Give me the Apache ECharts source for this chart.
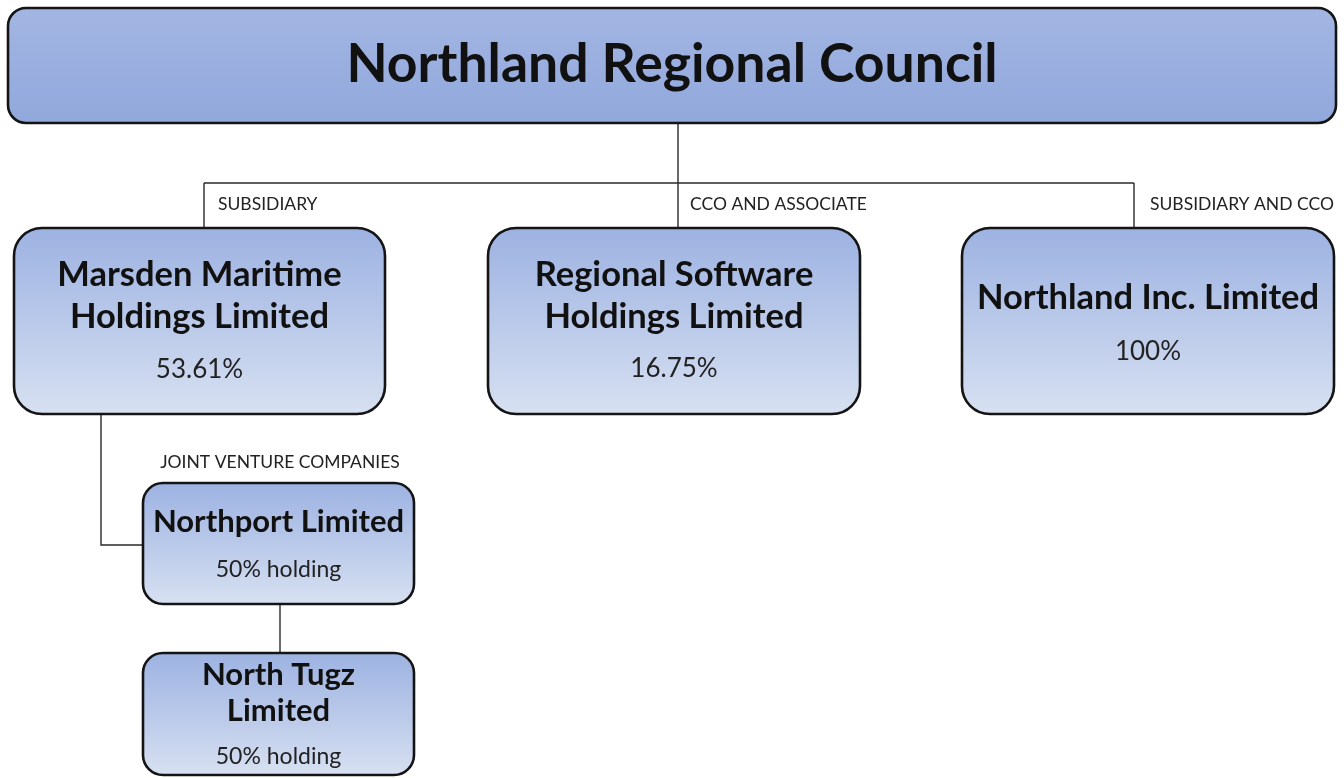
<!DOCTYPE html>
<html>
<head>
<meta charset="utf-8">
<script src="https://cdn.jsdelivr.net/npm/echarts@6/dist/echarts.min.js"></script>
<style>
  html, body { margin: 0; padding: 0; background: #ffffff; }
  #main { width: 1344px; height: 778px; }
</style>
</head>
<body>
<div id="main"></div>
<script>
// entity names and holdings
var nodeNames = ['Northland Regional Council', 'Marsden Maritime\nHoldings Limited', 'Regional Software\nHoldings Limited',
  'Northland Inc. Limited', 'Northport Limited', 'North Tugz\nLimited'];
var nodeShares = ['', '53.61%', '16.75%', '100%', '50% holding', '50% holding'];
var relationLabels = ['SUBSIDIARY', 'CCO AND ASSOCIATE', 'SUBSIDIARY AND CCO', 'JOINT VENTURE COMPANIES'];

// layout (pixel space of the page): box x, y, w, h, corner radius
var boxLayout = [
  [8, 8, 1328, 115, 18],
  [14, 228, 371, 186, 28],
  [488, 228, 372, 186, 28],
  [962, 228, 372, 186, 28],
  [143, 483, 271, 121, 20],
  [143, 653, 271, 122, 20]
];
// name centre y, name font size, line height, share y, share font size
var textLayout = [
  [65, 53.5, 50, 0, 0],
  [296, 34.5, 42, 370, 26],
  [296, 34.5, 42, 369, 26],
  [298, 34.5, 42, 352, 26],
  [522, 31, 36, 570, 23],
  [693, 31, 36, 757, 23]
];
var connectorPaths = [
  [[678, 123], [678, 183]],
  [[204, 183], [1134, 183]],
  [[204, 183], [204, 228]],
  [[678, 183], [678, 228]],
  [[1134, 183], [1134, 228]],
  [[101, 414], [101, 545], [143, 545]],
  [[280, 604], [280, 653]]
];
var labelLayout = [[218, 204, 'left'], [690, 204, 'left'], [1150, 204, 'left'], [280, 462, 'center']];

var FONT = 'Lato, "Open Sans", sans-serif';

var chart = echarts.init(document.getElementById('main'));

var boxData = nodeNames.map(function (n, i) { return [i]; });
var labelData = relationLabels.map(function (n, i) { return [i]; });

function renderBox(params, api) {
  var i = api.value(0);
  var b = boxLayout[i];
  var t = textLayout[i];
  var p0 = api.coord([b[0], b[1]]);
  var p1 = api.coord([b[0] + b[2], b[1] + b[3]]);
  var cx = (p0[0] + p1[0]) / 2;
  var top = i === 0;
  var fill = new echarts.graphic.LinearGradient(0, 0, 0, 1, top ? [
    { offset: 0, color: '#a3b6e3' },
    { offset: 1, color: '#91a8dc' }
  ] : [
    { offset: 0, color: '#9db2e2' },
    { offset: 0.55, color: '#bccbea' },
    { offset: 1, color: '#d8e1f2' }
  ]);
  var children = [{
    type: 'rect',
    shape: { x: p0[0], y: p0[1], width: p1[0] - p0[0], height: p1[1] - p0[1], r: b[4] },
    style: { fill: fill, stroke: '#141414', lineWidth: 2.6 }
  }, {
    type: 'text',
    x: cx, y: api.coord([0, t[0]])[1],
    style: {
      text: nodeNames[i], fill: '#111111', font: 'bold ' + t[1] + 'px ' + FONT,
      lineHeight: t[2], align: 'center', verticalAlign: 'middle'
    }
  }];
  if (nodeShares[i]) {
    children.push({
      type: 'text',
      x: cx, y: api.coord([0, t[3]])[1],
      style: {
        text: nodeShares[i], fill: '#222222', font: t[4] + 'px ' + FONT,
        align: 'center', verticalAlign: 'middle'
      }
    });
  }
  return { type: 'group', children: children };
}

function renderLabel(params, api) {
  var i = api.value(0);
  var l = labelLayout[i];
  var p = api.coord([l[0], l[1]]);
  return {
    type: 'text', x: p[0], y: p[1],
    style: {
      text: relationLabels[i], fill: '#222222', font: '17.5px ' + FONT,
      align: l[2], verticalAlign: 'middle'
    }
  };
}

var option = {
  backgroundColor: '#ffffff',
  animation: false,
  grid: { left: 0, right: 0, top: 0, bottom: 0 },
  xAxis: { type: 'value', min: 0, max: 1344, show: false },
  yAxis: { type: 'value', min: 0, max: 778, inverse: true, show: false },
  series: [
    {
      type: 'lines',
      coordinateSystem: 'cartesian2d',
      polyline: true,
      silent: true,
      z: 1,
      lineStyle: { color: '#2a2a2a', width: 1.4, opacity: 1 },
      data: connectorPaths.map(function (c) { return { coords: c }; })
    },
    {
      type: 'custom',
      silent: true,
      z: 2,
      renderItem: renderBox,
      data: boxData
    },
    {
      type: 'custom',
      silent: true,
      z: 3,
      renderItem: renderLabel,
      data: labelData
    }
  ]
};
chart.setOption(option);
</script>
</body>
</html>
